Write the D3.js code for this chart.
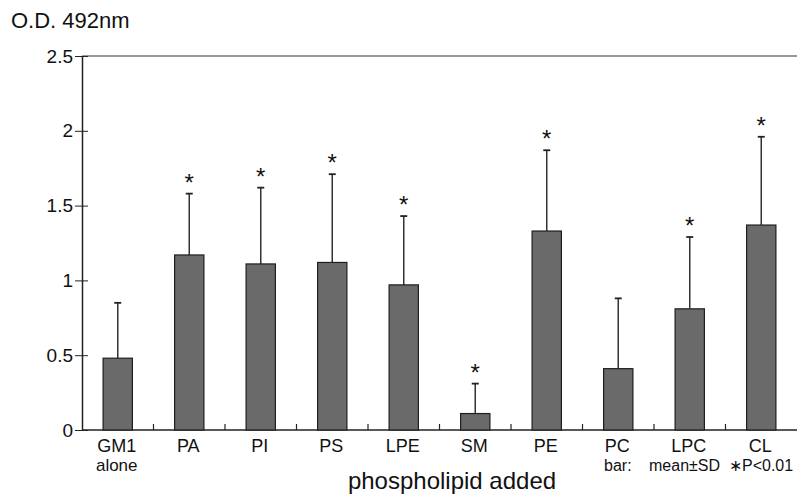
<!DOCTYPE html>
<html>
<head>
<meta charset="utf-8">
<script src="https://cdn.jsdelivr.net/npm/d3@7"></script>
<style>
  body { margin: 0; background: #fff; }
  text { font-family: "Liberation Sans", Arial, sans-serif; fill: #111; }
</style>
</head>
<body>
<div id="chart"></div>
<script>
"use strict";

let categories = ["GM1", "PA", "PI", "PS", "LPE", "SM", "PE", "PC", "LPC", "CL"];
let subLabels = ["alone", "", "", "", "", "", "", "", "", ""];
let means = [0.48, 1.17, 1.11, 1.12, 0.97, 0.11, 1.33, 0.41, 0.81, 1.37];
let sds = [0.37, 0.41, 0.51, 0.59, 0.46, 0.20, 0.54, 0.47, 0.48, 0.59];
let significant = [false, true, true, true, true, true, true, false, true, true];
let yTicks = [0, 0.5, 1, 1.5, 2, 2.5];

var width = 798,
    height = 498,
    plotLeft = 82,
    plotRight = 797,
    plotTop = 56,
    plotBottom = 430;

var svg = d3.select('#chart').append('svg')
  .attr('width', width)
  .attr('height', height);

var x = d3.scaleBand()
  .domain(categories)
  .range([plotLeft, plotRight])
  .padding(0);

var y = d3.scaleLinear()
  .domain([0, 2.5])
  .range([plotBottom, plotTop]);

var barWidth = x.bandwidth() * 0.41;

// frame lines
svg.append('line')
  .attr('x1', plotLeft).attr('x2', plotRight)
  .attr('y1', y(2.5)).attr('y2', y(2.5))
  .attr('stroke', '#333').attr('stroke-width', 1.2);

svg.append('line')
  .attr('x1', plotLeft).attr('x2', plotRight)
  .attr('y1', y(0)).attr('y2', y(0))
  .attr('stroke', '#222').attr('stroke-width', 1.5);

// y axis
var yAxis = d3.axisLeft(y)
  .tickValues(yTicks)
  .tickFormat(d3.format('~g'))
  .tickSizeInner(7)
  .tickSizeOuter(0)
  .tickPadding(3);

var gy = svg.append('g')
  .attr('transform', 'translate(' + plotLeft + ',0)')
  .call(yAxis);
gy.select('.domain').attr('stroke', '#222').attr('stroke-width', 1.5);
gy.selectAll('.tick line').attr('stroke', '#222').attr('x2', 6).attr('x1', -7);
gy.selectAll('.tick text')
  .style('font-size', '19px')
  .style('font-family', '"Liberation Sans", Arial, sans-serif')
  .attr('fill', '#111')
  .attr('x', -9);

// category separator ticks
svg.selectAll('.sep').data(categories.slice(1))
  .enter().append('line')
    .attr('class', 'sep')
    .attr('x1', function (d) { return x(d); })
    .attr('x2', function (d) { return x(d); })
    .attr('y1', y(0))
    .attr('y2', y(0) - 6)
    .attr('stroke', '#222')
    .attr('stroke-width', 1.2);

// error bars
svg.selectAll('.err').data(categories)
  .enter().append('line')
    .attr('class', 'err')
    .attr('x1', function (d) { return x(d) + x.bandwidth() / 2; })
    .attr('x2', function (d) { return x(d) + x.bandwidth() / 2; })
    .attr('y1', function (d, i) { return y(means[i]); })
    .attr('y2', function (d, i) { return y(means[i] + sds[i]); })
    .attr('stroke', '#333')
    .attr('stroke-width', 1.5);

svg.selectAll('.cap').data(categories)
  .enter().append('line')
    .attr('class', 'cap')
    .attr('x1', function (d) { return x(d) + x.bandwidth() / 2 - 3.5; })
    .attr('x2', function (d) { return x(d) + x.bandwidth() / 2 + 3.5; })
    .attr('y1', function (d, i) { return y(means[i] + sds[i]); })
    .attr('y2', function (d, i) { return y(means[i] + sds[i]); })
    .attr('stroke', '#222')
    .attr('stroke-width', 1.8);

// bars
svg.selectAll('.bar').data(categories)
  .enter().append('rect')
    .attr('class', 'bar')
    .attr('x', function (d) { return x(d) + (x.bandwidth() - barWidth) / 2; })
    .attr('y', function (d, i) { return y(means[i]); })
    .attr('width', barWidth)
    .attr('height', function (d, i) { return y(0) - y(means[i]); })
    .style('fill', '#6a6a6a')
    .attr('stroke', '#1e1e1e')
    .attr('stroke-width', 1.2);

// significance stars
svg.selectAll('.star').data(categories.filter(function (d, i) { return significant[i]; }))
  .enter().append('text')
    .attr('class', 'star')
    .attr('x', function (d) { return x(d) + x.bandwidth() / 2; })
    .attr('y', function (d) {
      var i = categories.indexOf(d);
      return y(means[i] + sds[i]) - 3;
    })
    .attr('text-anchor', 'middle')
    .style('font-size', '24px')
    .text('*');

// category labels
svg.selectAll('.cat').data(categories)
  .enter().append('text')
    .attr('class', 'cat')
    .attr('x', function (d) { return x(d) + x.bandwidth() / 2 - 1; })
    .attr('y', 452)
    .attr('text-anchor', 'middle')
    .style('font-size', '18px')
    .text(function (d) { return d; });

svg.selectAll('.sub').data(categories.filter(function (d, i) { return subLabels[i]; }))
  .enter().append('text')
    .attr('class', 'sub')
    .attr('x', function (d) { return x(d) + x.bandwidth() / 2 - 1; })
    .attr('y', 471)
    .attr('text-anchor', 'middle')
    .style('font-size', '17px')
    .text(function (d) { return subLabels[categories.indexOf(d)]; });

// titles
svg.append('text')
  .attr('x', 11).attr('y', 28)
  .style('font-size', '22px')
  .text('O.D. 492nm');

svg.append('text')
  .attr('x', 452).attr('y', 489)
  .attr('text-anchor', 'middle')
  .style('font-size', '24px')
  .text('phospholipid added');

// note
svg.append('text').attr('x', 604).attr('y', 471)
  .style('font-size', '16px').text('bar:');
svg.append('text').attr('x', 649).attr('y', 471)
  .style('font-size', '16px').text('mean\u00b1SD');
svg.append('text').attr('x', 729).attr('y', 471)
  .style('font-size', '16px').text('\u2217P<0.01');
</script>
</body>
</html>
